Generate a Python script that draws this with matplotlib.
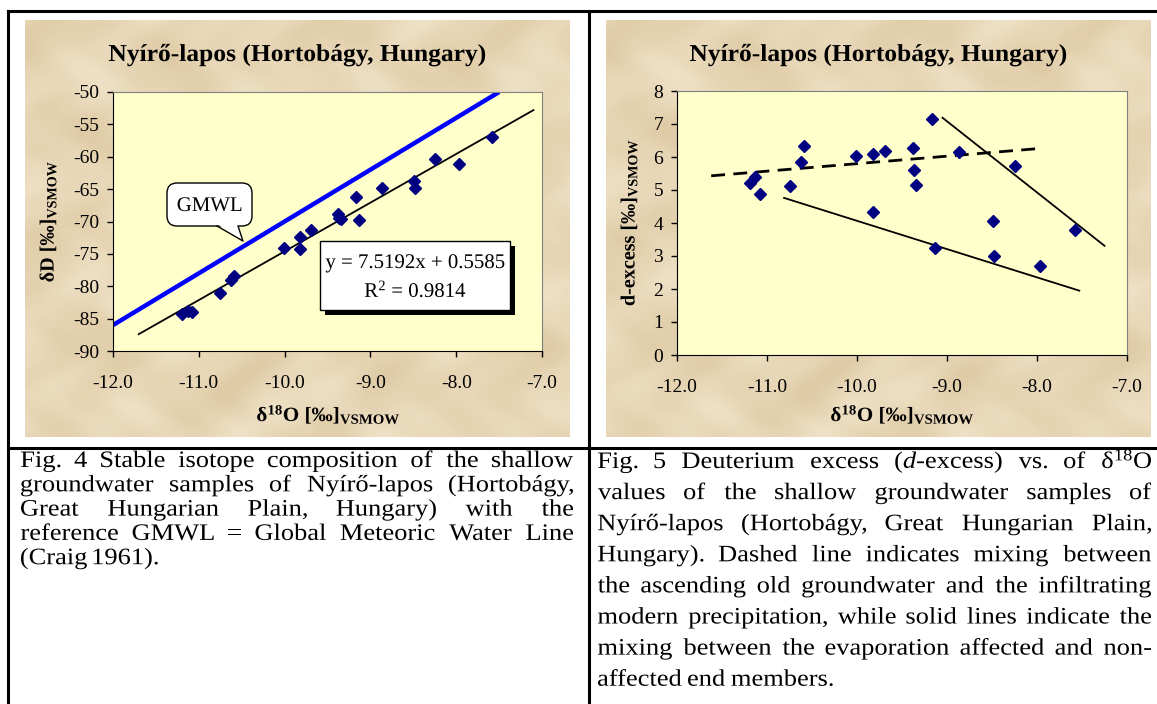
import numpy as np
import matplotlib
matplotlib.use('Agg')
import matplotlib.pyplot as plt
from matplotlib.patches import Rectangle, FancyBboxPatch, Polygon, PathPatch
from matplotlib.textpath import TextPath
from matplotlib.font_manager import FontProperties
from matplotlib.transforms import Affine2D

plt.rcParams['font.family'] = ['Liberation Serif', 'DejaVu Serif']
plt.rcParams['mathtext.fontset'] = 'custom'
plt.rcParams['mathtext.rm'] = 'Liberation Serif'
plt.rcParams['mathtext.it'] = 'Liberation Serif:italic'
plt.rcParams['mathtext.bf'] = 'Liberation Serif:bold'
plt.rcParams['axes.unicode_minus'] = False

W, H = 1157, 704

# samples
d18o = [-11.19, -11.13, -11.08, -10.75, -10.62, -10.59, -10.01, -9.82, -9.82, -9.69, -9.38,
        -9.37, -9.34, -9.17, -9.13, -8.87, -8.49, -8.48, -8.25, -7.97, -7.58]
dD = [-84.3, -83.8, -83.9, -81.0, -79.1, -78.4, -74.1, -72.4, -74.2, -71.3, -68.8,
      -69.4, -69.6, -66.2, -69.8, -64.8, -63.8, -64.8, -60.3, -61.1, -56.9]
dexcess = [5.22, 5.40, 4.89, 5.13, 5.84, 6.33, 6.03, 6.10, 4.33, 6.18, 6.28,
           5.60, 5.15, 7.16, 3.25, 6.16, 4.07, 3.00, 5.73, 2.69, 3.80]

# lines
gmwl_x, gmwl_y = [-12.0, -7.5], [-86.0, -50.0]
fit_x, fit_y = [-11.7, -7.1], [-87.4, -52.8]
mix_x, mix_y = [-11.62, -8.01], [5.43, 6.25]
evap1_x, evap1_y = [-10.81, -7.53], [4.76, 1.95]
evap2_x, evap2_y = [-9.05, -7.25], [7.19, 3.31]

xticks = [-12, -11, -10, -9, -8, -7]
title = 'Nyírő-lapos (Hortobágy, Hungary)'

cap4 = ['Fig. 4 Stable isotope composition of the shallow',
        'groundwater samples of Nyírő-lapos (Hortobágy,',
        'Great Hungarian Plain, Hungary) with the',
        'reference GMWL = Global Meteoric Water Line',
        '(Craig 1961).']
cap5 = [r'Fig. 5 Deuterium excess ($\mathit{d}$-excess) vs. of δ$^{18}$O',
        'values of the shallow groundwater samples of',
        'Nyírő-lapos (Hortobágy, Great Hungarian Plain,',
        'Hungary). Dashed line indicates mixing between',
        'the ascending old groundwater and the infiltrating',
        'modern precipitation, while solid lines indicate the',
        'mixing between the evaporation affected and non-',
        'affected end members.']

fig = plt.figure(figsize=(W / 100, H / 100), dpi=100)
fig.patch.set_facecolor('white')

def pixel_axes(z):
    a = fig.add_axes([0, 0, 1, 1])
    a.set_xlim(0, W)
    a.set_ylim(H, 0)
    a.axis('off')
    a.patch.set_visible(False)
    a.set_zorder(z)
    return a

bg = pixel_axes(-1)
fg = pixel_axes(10)

# parchment background (smooth mottling, no randomness)
yy, xx = np.mgrid[0:417, 0:545]
mott = (np.sin(xx / 23.0 + 1.9 * np.sin(yy / 31.0)) + np.sin(yy / 17.0 + 1.6 * np.sin(xx / 37.0))
        + 0.6 * np.sin(xx / 11.0 + 2.2 * np.sin(yy / 14.0))) / 2.6
light, dark = np.array([239, 225, 198]) / 255, np.array([223, 203, 166]) / 255
tex = light + (dark - light) * (0.5 + 0.5 * mott)[..., None]
for x0 in [25, 606]:
    bg.imshow(tex, extent=(x0, x0 + 545, 437, 20), interpolation='bilinear', aspect='auto')
bg.set_xlim(0, W)
bg.set_ylim(H, 0)

# table rules
for xs, ys in [([8, W], [11, 11]), ([8, 8], [11, H]), ([589, 589], [11, H]), ([8, W], [448, 448])]:
    fg.plot(xs, ys, color='black', lw=2.2, solid_capstyle='projecting')

PT = 100 / 72

def stext(x, y, s, size, weight='normal', ha='left', va='baseline', rot=0, sx=1.0):
    tp = TextPath((0, 0), s, size=size, prop=FontProperties(family='Liberation Serif', weight=weight))
    e = tp.get_extents()
    ax_ = {'left': e.x0, 'center': (e.x0 + e.x1) / 2, 'right': e.x1}[ha]
    ay_ = 0 if va == 'baseline' else (e.y0 + e.y1) / 2
    tr = Affine2D().translate(-ax_, -ay_).scale(PT).rotate_deg(rot).scale(sx, -1).translate(x, y)
    fg.add_patch(PathPatch(tr.transform_path(tp), fc='black', ec='none', lw=0))
    return e.width * PT * sx

def make_axes(left, top, right, bottom):
    a = fig.add_axes([left / W, 1 - bottom / H, (right - left) / W, (bottom - top) / H])
    a.set_facecolor('#ffffcc')
    for s in ['top', 'right']:
        a.spines[s].set_color('#808080')
    for s in ['left', 'bottom']:
        a.spines[s].set_color('black')
    a.tick_params(direction='out', length=4, width=1, labelsize=14)
    a.tick_params(axis='x', pad=13)
    a.tick_params(axis='y', pad=6)
    a.set_xlim(-12, -7)
    a.set_xticks(xticks)
    a.set_xticklabels(['%.1f' % v for v in xticks])
    return a

ax1 = make_axes(113, 92, 542, 351)
ax1.set_ylim(-90, -50)
ax1.set_yticks(np.arange(-90, -49, 5))
ax1.plot(gmwl_x, gmwl_y, color='#0000ff', lw=3.2, solid_capstyle='butt', clip_on=True)
ax1.plot(fit_x, fit_y, color='black', lw=1.3)
ax1.plot(d18o, dD, 'D', color='#000080', ms=5.8, mec='#000080', zorder=5)

ax2 = make_axes(677, 91, 1127, 355)
ax2.set_ylim(0, 8)
ax2.set_yticks(range(0, 9))
ax2.plot(mix_x, mix_y, color='black', lw=2, dashes=(5, 3))
ax2.plot(evap1_x, evap1_y, color='black', lw=1.3)
ax2.plot(evap2_x, evap2_y, color='black', lw=1.3)
ax2.plot(d18o, dexcess, 'D', color='#000080', ms=5.8, mec='#000080', zorder=5)

# titles and axis labels
stext(297, 61, title, 17.5, 'bold', ha='center', sx=1.05)
stext(878, 61, title, 17.5, 'bold', ha='center', sx=1.05)
xlab = r'δ$^{\mathbf{18}}$O [‰]$_{\mathbf{VSMOW}}$'
stext(328, 421, xlab, 14.5, 'bold', ha='center', sx=1.05)
stext(902, 421, xlab, 14.5, 'bold', ha='center', sx=1.05)
stext(48, 222, r'δD [‰]$_{\mathbf{VSMOW}}$', 14.5, 'bold', ha='center', va='center', rot=90)
stext(629, 223, r'd-excess [‰]$_{\mathbf{VSMOW}}$', 14.5, 'bold', ha='center', va='center', rot=90)

# regression box
fg.add_patch(Rectangle((325, 246), 190, 69, fc='black', ec='none'))
fg.add_patch(Rectangle((320, 241), 190, 69, fc='white', ec='black', lw=1))
stext(415, 268, 'y = 7.5192x + 0.5585', 15, ha='center')
stext(415, 297, r'R$^{2}$ = 0.9814', 15, ha='center')

# GMWL callout
fg.add_patch(FancyBboxPatch((167, 183), 85, 43, boxstyle='round,pad=0,rounding_size=10',
                            fc='white', ec='black', lw=1))
fg.add_patch(Polygon([(217, 224), (238, 224), (243, 241)], fc='white', ec='none'))
fg.plot([217, 243, 238], [226, 241, 226], color='black', lw=1)
stext(209.5, 211, 'GMWL', 15, ha='center')

# justified captions
def justified(lines, x0, x1, y0, dy, size, sx):
    prop = FontProperties(family='Liberation Serif')
    space = 0.25 * size * PT * sx
    for i, line in enumerate(lines):
        words = line.split(' ')
        ws = [TextPath((0, 0), w, size=size, prop=prop).get_extents().width * PT * sx for w in words]
        if i == len(lines) - 1:
            gap = space
        else:
            gap = (x1 - x0 - sum(ws)) / (len(words) - 1)
        x = x0
        for w, wd in zip(words, ws):
            stext(x, y0 + i * dy, w, size, sx=sx)
            x += wd + gap

justified(cap4, 21, 573, 467, 24.3, 17, 1.12)
justified(cap5, 598, 1151, 468, 31.1, 17, 1.12)

fig.savefig('out.png', dpi=100)
